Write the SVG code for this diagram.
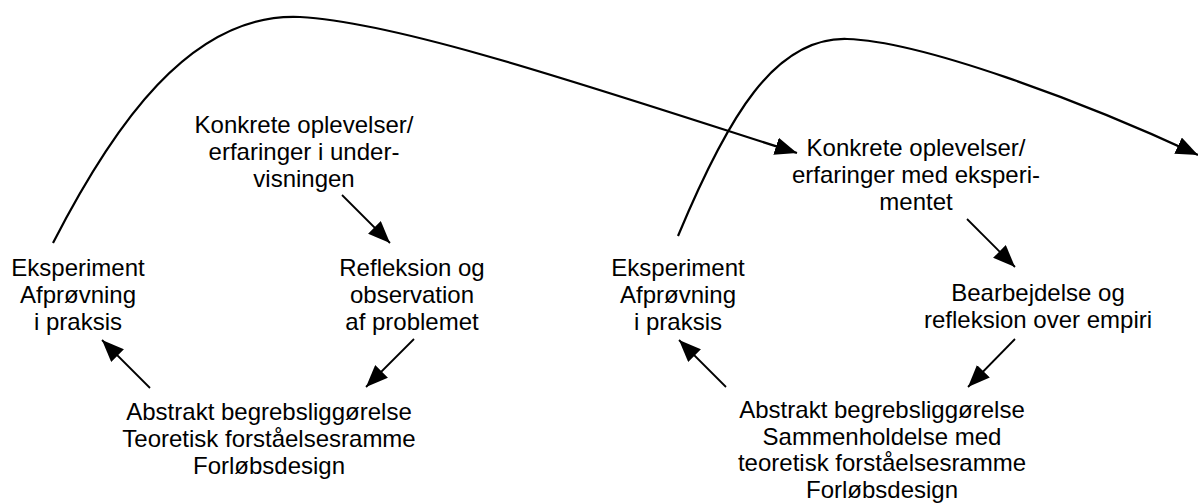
<svg xmlns="http://www.w3.org/2000/svg" width="1198" height="504" viewBox="0 0 1198 504">
<style>
text{font-family:"Liberation Sans",Arial,sans-serif;font-size:24px;fill:#000;text-anchor:middle}
.c{fill:none;stroke:#000;stroke-width:2.2}
.a{fill:none;stroke:#000;stroke-width:1.8}
</style>
<defs>
<marker id="ah" markerUnits="userSpaceOnUse" markerWidth="22" markerHeight="18" refX="22" refY="9" orient="auto" viewBox="0 0 22 18">
<path d="M0,0 L22,9 L0,18 z" fill="#000"/>
</marker>
</defs>
<rect width="1198" height="504" fill="#fff"/>
<g id="connectors">
<path class="c" d="M53,243 C112,128 190,12 300,17 C400,22 600,90 797,153" marker-end="url(#ah)"/>
<path class="c" d="M678,236 C728,116 775,37 847,39 C920,41 1080,100 1198,155" marker-end="url(#ah)"/>
<path class="a" d="M342,195 L390,243" marker-end="url(#ah)"/>
<path class="a" d="M414,339 L366,387" marker-end="url(#ah)"/>
<path class="a" d="M150,388 L102,340" marker-end="url(#ah)"/>
<path class="a" d="M967,219 L1015,267" marker-end="url(#ah)"/>
<path class="a" d="M1015,339 L968,387" marker-end="url(#ah)"/>
<path class="a" d="M726,387 L679,340" marker-end="url(#ah)"/>
</g>
<g id="konkrete1"><text x="304" y="133">Konkrete oplevelser/</text><text x="304" y="160">erfaringer i under-</text><text x="304" y="187">visningen</text></g>
<g id="refleksion"><text x="412" y="276">Refleksion og</text><text x="412" y="303">observation</text><text x="412" y="330">af problemet</text></g>
<g id="abstrakt1"><text x="269" y="420">Abstrakt begrebsliggørelse</text><text x="269" y="447">Teoretisk forståelsesramme</text><text x="269" y="474">Forløbsdesign</text></g>
<g id="eksperiment1"><text x="78" y="276">Eksperiment</text><text x="78" y="303">Afprøvning</text><text x="78" y="330">i praksis</text></g>
<g id="konkrete2"><text x="916" y="156">Konkrete oplevelser/</text><text x="916" y="183">erfaringer med eksperi-</text><text x="916" y="210">mentet</text></g>
<g id="bearbejdelse"><text x="1038" y="301">Bearbejdelse og</text><text x="1038" y="328">refleksion over empiri</text></g>
<g id="abstrakt2"><text x="882" y="418">Abstrakt begrebsliggørelse</text><text x="882" y="444.5">Sammenholdelse med</text><text x="882" y="471">teoretisk forståelsesramme</text><text x="882" y="497.5">Forløbsdesign</text></g>
<g id="eksperiment2"><text x="678" y="276">Eksperiment</text><text x="678" y="303">Afprøvning</text><text x="678" y="330">i praksis</text></g>
</svg>
